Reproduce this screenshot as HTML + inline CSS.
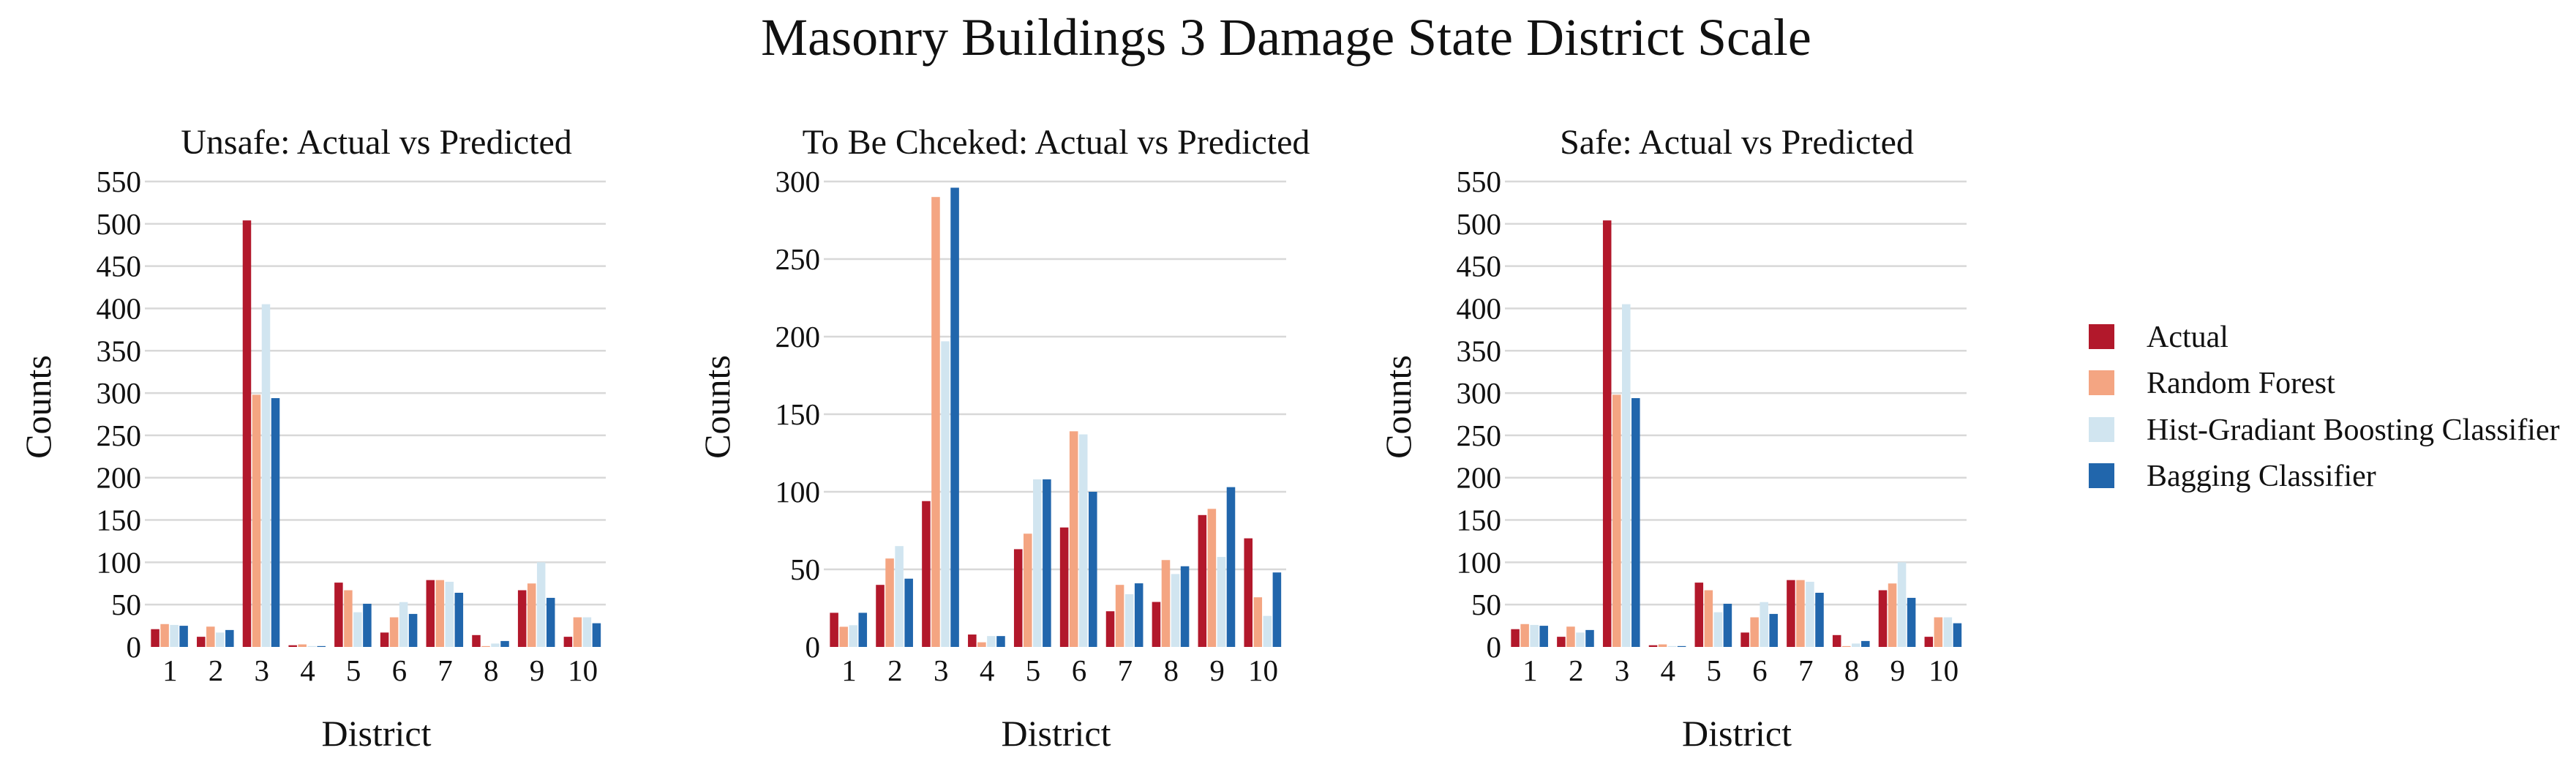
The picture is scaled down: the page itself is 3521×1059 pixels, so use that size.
<!DOCTYPE html>
<html><head><meta charset="utf-8"><style>
html,body{margin:0;padding:0;background:#fff;}
svg{display:block;font-family:"Liberation Serif",serif;}
</style></head><body>
<svg id="fig" width="3521" height="1059" viewBox="0 0 3521 1059" xmlns="http://www.w3.org/2000/svg">
<text x="1758" y="75" font-size="72" text-anchor="middle" fill="#111">Masonry Buildings 3 Damage State District Scale</text>
<g id="legend"></g>
</svg>
<script>
const districts = ["1","2","3","4","5","6","7","8","9","10"];
const seriesNames = ["Actual","Random Forest","Hist-Gradiant Boosting Classifier","Bagging Classifier"];
const seriesColors = ["#b2182b","#f4a582","#d1e5f0","#2166ac"];

const unsafeActual = [21,12,504,2,76,17,79,14,67,12];
const unsafeRF = [27,24,298,3,67,35,79,1,75,35];
const unsafeHGB = [26,17,405,1,41,53,77,4,100,35];
const unsafeBag = [25,20,294,1,51,39,64,7,58,28];

const checkActual = [22,40,94,8,63,77,23,29,85,70];
const checkRF = [13,57,290,3,73,139,40,56,89,32];
const checkHGB = [14,65,197,7,108,137,34,47,58,20];
const checkBag = [22,44,296,7,108,100,41,52,103,48];

const safeActual = [21,12,504,2,76,17,79,14,67,12];
const safeRF = [27,24,298,3,67,35,79,1,75,35];
const safeHGB = [26,17,405,1,41,53,77,4,100,35];
const safeBag = [25,20,294,1,51,39,64,7,58,28];

const ticksBig = [0,50,100,150,200,250,300,350,400,450,500,550];
const ticksSmall = [0,50,100,150,200,250,300];

const NS = "http://www.w3.org/2000/svg";
const svg = document.getElementById('fig');
function mk(tag, attrs, parent){
  const e = document.createElementNS(NS, tag);
  for (const k in attrs) e.setAttribute(k, attrs[k]);
  (parent||svg).appendChild(e);
  return e;
}

const panels = [
  {key:"unsafe", title:"Unsafe: Actual vs Predicted", left:201, right:828, ticks:ticksBig, series:[unsafeActual,unsafeRF,unsafeHGB,unsafeBag]},
  {key:"to-be-checked", title:"To Be Chceked: Actual vs Predicted", left:1129, right:1758, ticks:ticksSmall, series:[checkActual,checkRF,checkHGB,checkBag]},
  {key:"safe", title:"Safe: Actual vs Predicted", left:2060, right:2688, ticks:ticksBig, series:[safeActual,safeRF,safeHGB,safeBag]}
];
const yTop = 248, yBot = 884;

panels.forEach(p => {
  const g = mk('g', {});
  
  
  const maxV = p.ticks[p.ticks.length-1];
  const yScale = v => yBot - (v / maxV) * (yBot - yTop);
  const slot = (p.right - p.left) / districts.length;
  const xCenter = i => p.left + slot * (i + 0.5);

  p.ticks.forEach(t => {
    if (t > 0) {
      const ln = mk('line', {x1:p.left-3, x2:p.right, y1:yScale(t), y2:yScale(t), stroke:"#d8d8d8", "stroke-width":2.5}, g);
      
      
    }
    const tx = mk('text', {x:p.left-8, y:yScale(t)+14, "font-size":41, "text-anchor":"end", fill:"#111"}, g);
    tx.textContent = t;
    
    
  });

  const groupW = slot * 0.83;
  const barStep = groupW / 4;
  const barW = barStep - 1.5;
  p.series.forEach((vals, s) => {
    vals.forEach((v, i) => {
      const x = xCenter(i) - groupW/2 + s*barStep;
      const r = mk('rect', {x:x, y:yScale(v), width:barW, height:yBot - yScale(v), fill:seriesColors[s]}, g);
      
      
    });
  });

  districts.forEach((d, i) => {
    const tx = mk('text', {x:xCenter(i), y:930, "font-size":41, "text-anchor":"middle", fill:"#111"}, g);
    tx.textContent = d;
    
    
  });

  const cx = (p.left + p.right) / 2;
  const tt = mk('text', {x:cx, y:210, "font-size":48, "text-anchor":"middle", fill:"#111"}, g);
  tt.textContent = p.title;
  
  

  const xl = mk('text', {x:cx, y:1019, "font-size":50, "text-anchor":"middle", fill:"#111"}, g);
  xl.textContent = "District";
  
  

  const lx = p.left - 132, ly = 556;
  const yl = mk('text', {x:lx, y:ly, "font-size":50, "text-anchor":"middle", transform:`rotate(-90 ${lx} ${ly})`, fill:"#111"}, g);
  yl.textContent = "Counts";
  
  
});

const leg = document.getElementById('legend');
const legRows = [460, 523, 587, 650];
seriesNames.forEach((n, i) => {
  const e = mk('g', {}, leg);
  
  
  const sw = mk('rect', {x:2855, y:legRows[i]-17, width:35, height:34, fill:seriesColors[i]}, e);
  
  
  const t = mk('text', {x:2934, y:legRows[i]+14, "font-size":42, fill:"#111"}, e);
  t.textContent = n;
  
  
});
</script>
</body></html>
